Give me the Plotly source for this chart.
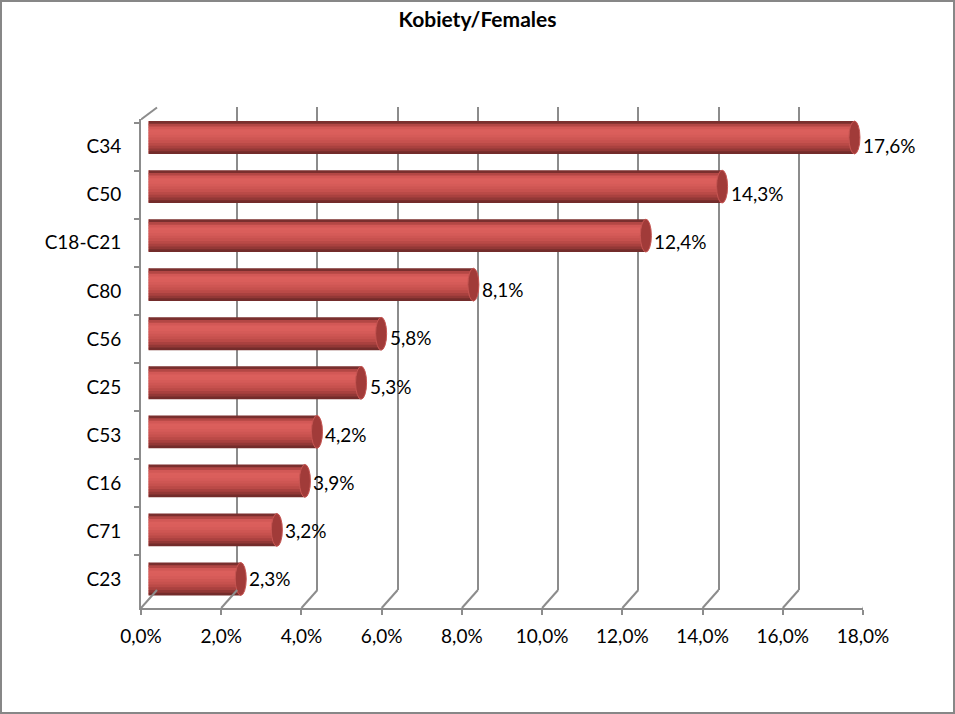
import plotly.graph_objects as go

# ---- data ----
categories = ["C34", "C50", "C18-C21", "C80", "C56", "C25", "C53", "C16", "C71", "C23"]
values = [17.6, 14.3, 12.4, 8.1, 5.8, 5.3, 4.2, 3.9, 3.2, 2.3]
value_labels = ["17,6%", "14,3%", "12,4%", "8,1%", "5,8%", "5,3%", "4,2%", "3,9%", "3,2%", "2,3%"]
x_ticks = [0, 2, 4, 6, 8, 10, 12, 14, 16, 18]
x_tick_labels = ["0,0%", "2,0%", "4,0%", "6,0%", "8,0%", "10,0%", "12,0%", "14,0%", "16,0%", "18,0%"]
title_text = "Kobiety/Females"

W, H = 955, 714
FONT = "Lato"
GRAY = "#8c8c8c"

def fx(px):
    return px / W

def fy(py):
    return 1 - py / H

# cylinder shading profile, top -> bottom
shade = ["#7a2f2e", "#b34745", "#d25856", "#db5f5c", "#da5e5b", "#d55b58",
         "#ce5653", "#c6514e", "#ba4a47", "#a9413f", "#923836", "#732c2b"]
bw = 0.67
n = len(shade)

fig = go.Figure()

# back wall subplot (x, y) -> gridlines only
fig.add_trace(go.Scatter(x=[0], y=[0], mode="markers", marker=dict(opacity=0),
                         hoverinfo="skip", showlegend=False, xaxis="x", yaxis="y"))

# bars subplot (x2, y2) - sliced to simulate cylinder shading
for k, col in enumerate(shade):
    wk = bw / n * (1.6 if k < n - 1 else 1.0)
    fig.add_trace(go.Bar(
        x=values, y=categories, orientation="h",
        width=wk, offset=-bw / 2 + k * bw / n,
        marker=dict(color=col, line=dict(width=0)),
        xaxis="x2", yaxis="y2", showlegend=False, hoverinfo="skip",
    ))

# front subplot (x3, y3) carries the labelled axes
fig.add_trace(go.Scatter(x=[0] * len(categories), y=categories, mode="markers",
                         marker=dict(opacity=0), hoverinfo="skip", showlegend=False,
                         xaxis="x3", yaxis="y3"))

shapes = []
# cylinder end caps
for i, v in enumerate(values):
    shapes.append(dict(type="circle", xref="x2", yref="y2", xsizemode="pixel",
                       xanchor=0, x0=-5, x1=5, y0=i - bw / 2, y1=i + bw / 2,
                       fillcolor="#c24f4c", line=dict(width=0), layer="between"))
    shapes.append(dict(type="circle", xref="x2", yref="y2", xsizemode="pixel",
                       xanchor=v, x0=-5.5, x1=5.5, y0=i - bw / 2, y1=i + bw / 2,
                       fillcolor="#a13b39", line=dict(color="#c65552", width=1),
                       layer="above"))

# floor diagonals from front ticks to back wall
axis_y = fy(608)
for t in x_ticks:
    shapes.append(dict(type="line", xref="x3", xsizemode="pixel", xanchor=t, x0=0, x1=16,
                       yref="paper", ysizemode="pixel", yanchor=axis_y, y0=0, y1=18,
                       line=dict(color=GRAY, width=2)))
# top-left side diagonal
shapes.append(dict(type="line", xref="x3", xsizemode="pixel", xanchor=0, x0=0, x1=16,
                   yref="paper", ysizemode="pixel", yanchor=fy(119.5), y0=0, y1=12,
                   line=dict(color=GRAY, width=2)))
# outer chart border
shapes.append(dict(type="rect", xref="paper", yref="paper", x0=0, x1=1, y0=0, y1=1,
                   line=dict(color="#878787", width=4), layer="above"))

annotations = []
for i, (v, lab) in enumerate(zip(values, value_labels)):
    annotations.append(dict(x=v, y=categories[i], xref="x3", yref="y3", text=lab,
                            showarrow=False, xanchor="left", xshift=14, yshift=1,
                            font=dict(family=FONT, size=19, color="#000")))

tickfont = dict(family=FONT, size=19, color="#000")

fig.update_layout(
    template="none",
    width=W, height=H, autosize=False,
    margin=dict(l=0, r=0, t=0, b=0, pad=0),
    paper_bgcolor="white", plot_bgcolor="rgba(0,0,0,0)",
    barmode="overlay",
    title=dict(text="<b>" + title_text + "</b>", x=0.5, xanchor="center",
               y=fy(20), yanchor="middle",
               font=dict(family=FONT, size=21, color="#000")),
    shapes=shapes, annotations=annotations,
    showlegend=False,
    xaxis=dict(domain=[fx(157), fx(879)], range=[0, 18], tickvals=x_ticks,
               showticklabels=False, showgrid=True, gridcolor=GRAY, gridwidth=2,
               zeroline=False, showline=False, ticks="", anchor="y", automargin=False),
    yaxis=dict(domain=[fy(590), fy(107)], range=[0, 1], showticklabels=False,
               showgrid=False, zeroline=False, showline=False, ticks="", anchor="x",
               automargin=False),
    xaxis2=dict(domain=[fx(148.5), fx(870.5)], range=[0, 18], visible=False, anchor="y2",
                automargin=False),
    yaxis2=dict(domain=[fy(603.5), fy(113)], autorange="reversed", type="category",
                visible=False, anchor="x2", categoryorder="array", categoryarray=categories,
                automargin=False),
    xaxis3=dict(domain=[fx(141), fx(863)], range=[0, 18], tickvals=x_ticks,
                ticktext=x_tick_labels, showgrid=False, zeroline=False,
                showline=True, linecolor=GRAY, linewidth=2,
                ticks="outside", ticklen=5, tickcolor=GRAY, tickwidth=2,
                ticklabelstandoff=6,
                tickfont=tickfont, anchor="y3", automargin=False),
    yaxis3=dict(domain=[fy(607.5), fy(118.5)], autorange="reversed", type="category",
                categoryorder="array", categoryarray=categories,
                showgrid=False, zeroline=False, showline=True, linecolor=GRAY, linewidth=2,
                ticks="outside", ticklen=5, tickcolor=GRAY, tickwidth=2, tickson="boundaries",
                ticklabelstandoff=14, tickfont=tickfont, anchor="x3", automargin=False),
)

fig.write_html("out.html",
               config={"displayModeBar": False, "staticPlot": True},
               post_script="document.body.style.margin='0';document.body.style.overflow='hidden';")
